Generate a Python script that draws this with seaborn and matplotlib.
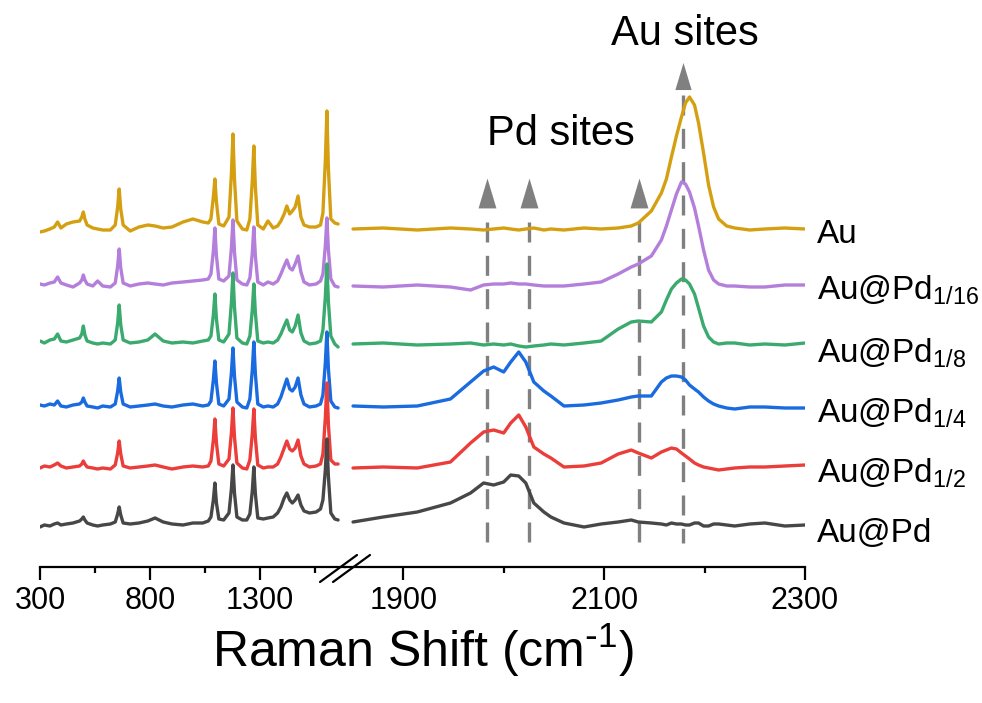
import pandas as pd
import matplotlib.pyplot as plt
import seaborn as sns
from matplotlib.lines import Line2D
from matplotlib.path import Path

# sample names / stacking
samples = ['Au', 'Au@Pd1/16', 'Au@Pd1/8', 'Au@Pd1/4', 'Au@Pd1/2', 'Au@Pd']
labels = ['Au', r'Au@Pd$_{1/16}$', r'Au@Pd$_{1/8}$', r'Au@Pd$_{1/4}$', r'Au@Pd$_{1/2}$', 'Au@Pd']
offsets = [338, 281, 223, 160, 99, 42]
label_y = [324, 267, 204, 144, 84, 25]
colors = ['#D4A012', '#B47EDB', '#3BAA6E', '#1A6AE0', '#EB3D3A', '#474747']

# low-wavenumber segment (300-1690 cm-1)
shift_low = [300, 320, 345, 365, 380, 395,
             420, 450, 480, 490, 497, 504, 514,
             540, 562, 585, 620,
             642, 653, 660, 667, 678,
             710, 750, 790, 823, 860, 900, 950, 995, 1040, 1065,
             1077, 1088, 1095, 1102, 1113,
             1135,
             1159, 1170, 1177, 1184, 1195,
             1220, 1240,
             1254, 1265, 1272, 1279, 1290,
             1315, 1336, 1360, 1380,
             1395, 1410, 1422, 1435, 1447, 1460, 1473, 1486, 1500,
             1525, 1555, 1575,
             1586, 1597, 1604, 1611, 1622,
             1640, 1655]

low_au = [-3, -2, 0, 2, 7, 1,
          5, 7, 8, 12, 17, 10, 4,
          1, 0, -1, -1,
          4, 22, 40, 20, 4,
          -2, 2, 4, 3, 1, 2, 7, 10, 7, 6,
          10, 32, 50, 27, 5,
          3,
          12, 55, 95, 50, 8,
          0, -1,
          10, 48, 83, 42, 4,
          0, 8, 1, 3,
          8, 15, 23, 15, 18, 22, 33, 12, 4,
          2, 2, 4,
          16, 68, 118, 60, 10,
          6, 5]
low_pd16 = [2, 1, 3, 4, 9, 3,
            1, -1, 3, 6, 11, 6, 2,
            0, 5, 0, -1,
            3, 20, 37, 18, 3,
            0, 2, 3, 2, 1, 3, 4, 5, 6, 7,
            12, 35, 58, 30, 7,
            5,
            10, 38, 66, 34, 6,
            2, 1,
            8, 33, 59, 30, 4,
            1, 4, 2, 5,
            12, 20, 26, 18, 16, 22, 30, 14, 4,
            1, 2, 5,
            12, 40, 68, 36, 7,
            0, -1]
low_pd8 = [3, 1, 4, 5, 10, 3,
           2, 4, 6, 10, 18, 9, 3,
           1, 0, 1, 0,
           4, 21, 39, 19, 4,
           1, 2, 4, 10, 3, 1, 2, 1, 3, 4,
           8, 29, 50, 25, 4,
           2,
           10, 41, 71, 37, 6,
           1, 0,
           8, 34, 60, 31, 3,
           1, 2, 1, 4,
           10, 18, 24, 14, 12, 18, 29, 11, 3,
           0, 1, 3,
           14, 47, 80, 42, 8,
           0, -3]
low_pd4 = [2, 1, 3, 2, 6, 1,
           0, 2, 3, 5, 9, 5, 1,
           0, -1, 1, 0,
           3, 16, 29, 15, 3,
           0, 1, 2, 3, 1, 0, 2, 3, 1, 2,
           6, 27, 46, 24, 3,
           1,
           8, 34, 59, 31, 5,
           0, -1,
           8, 37, 65, 33, 3,
           0, 1, 0, 3,
           10, 20, 28, 18, 16, 20, 29, 12, 3,
           0, 1, 3,
           12, 44, 75, 38, 6,
           0, -1]
low_pd2 = [0, 2, 1, 3, 5, 2,
           0, 1, 2, 4, 7, 4, 1,
           0, -1, 0, -1,
           3, 15, 27, 14, 2,
           0, 1, 2, 3, 1, -1, 1, 2, 1, 2,
           7, 28, 49, 25, 4,
           2,
           9, 35, 60, 31, 5,
           0, -1,
           8, 34, 59, 30, 3,
           0, 1, 1, 4,
           11, 20, 27, 19, 17, 20, 28, 12, 4,
           1, 2, 4,
           14, 50, 85, 43, 8,
           4, 4]
low_aupd = [-2, 0, -1, 1, 2, 0,
            1, 2, 4, 6, 8, 5, 2,
            0, -1, 0, 1,
            3, 11, 18, 10, 2,
            1, 2, 4, 7, 3, 1, 0, 2, 2, 4,
            8, 25, 42, 22, 6,
            5,
            12, 36, 60, 32, 8,
            5, 5,
            11, 34, 58, 31, 7,
            6, 7, 8, 12,
            18, 27, 32, 25, 22, 25, 30, 20, 14,
            12, 13, 16,
            25, 55, 86, 48, 12,
            6, 5]

# high-wavenumber segment (1850-2300 cm-1)
shift_high = [1850, 1880, 1914, 1947, 1967, 1980, 1990, 2000, 2007, 2015,
              2022, 2030, 2040, 2047, 2060, 2080, 2097, 2114, 2127, 2134,
              2147, 2157, 2162, 2167, 2172, 2177, 2181, 2185, 2190, 2194,
              2199, 2204, 2209, 2214, 2222, 2230, 2245, 2260, 2280, 2300]
high_au = [0, 1, -1, 1, 0, -1, 0, 1, 0, -1,
           0, 1, -1, 0, -1, 1, 0, 1, 3, 6,
           18, 36, 50, 72, 93, 112, 126, 132, 124, 106,
           76, 44, 22, 10, 3, 1, -1, 0, 1, 0]
high_pd16 = [0, -1, 1, -1, -4, 1, 2, 2, 3, 2,
             2, 1, 0, 0, 0, 2, 4, 12, 19, 22,
             30, 46, 60, 76, 92, 104, 102, 94, 78, 60,
             36, 16, 6, 2, 0, 0, -1, -1, 1, 1]
high_pd8 = [0, 1, -1, 0, 1, -1, 0, -1, 0, -2,
            -3, -2, -1, 0, -1, 1, 3, 15, 22, 23,
            22, 32, 44, 55, 61, 65, 64, 60, 50, 36,
            18, 7, 2, 0, 1, 1, -1, 0, -1, 1]
high_pd4 = [1, 0, 1, 8, 25, 36, 40, 35, 45, 55,
            45, 25, 16, 11, 1, 2, 4, 7, 10, 11,
            11, 25, 29, 31, 31, 30, 27, 22, 18, 15,
            10, 6, 3, 1, -1, -2, 0, 0, -1, -1]
high_pd2 = [0, 1, 0, 6, 25, 36, 38, 35, 45, 53,
            41, 21, 14, 10, 1, 2, 5, 14, 18, 15,
            10, 16, 18, 20, 19, 15, 12, 9, 5, 3,
            1, 0, -1, -2, -1, 0, 1, 1, 2, 3]
high_aupd = [3, 8, 13, 22, 32, 42, 40, 43, 50, 49,
             42, 22, 13, 8, 2, -2, 1, 3, 5, 3,
             2, 1, 0, 2, 1, 1, 0, 0, 2, 2,
             -1, -1, 1, 1, 0, -1, 1, 2, -1, 0]

# site markers
pd_sites = [1983, 2025, 2135]
au_site = 2179

low_series = [low_au, low_pd16, low_pd8, low_pd4, low_pd2, low_aupd]
high_series = [high_au, high_pd16, high_pd8, high_pd4, high_pd2, high_aupd]

rows = []
for name, off, lo, hi in zip(samples, offsets, low_series, high_series):
    for x, y in zip(shift_low, lo):
        rows.append((name, 'low', x, y + off))
    for x, y in zip(shift_high, hi):
        rows.append((name, 'high', x, y + off))
df = pd.DataFrame(rows, columns=['sample', 'segment', 'shift', 'intensity'])

sns.set_style('ticks')
plt.rcParams['font.family'] = ['Liberation Sans', 'DejaVu Sans']
plt.rcParams['mathtext.default'] = 'regular'
plt.rcParams['text.color'] = 'black'
plt.rcParams['xtick.color'] = 'black'
plt.rcParams['axes.edgecolor'] = 'black'

W, H = 982, 703
fig = plt.figure(figsize=(W / 100, H / 100), dpi=100)
bottom = (H - 567) / H
height = 567 / H
ax1 = fig.add_axes([40 / W, bottom, 305 / W, height])
ax2 = fig.add_axes([345 / W, bottom, 460 / W, height])

for ax, seg in [(ax1, 'low'), (ax2, 'high')]:
    sns.lineplot(data=df[df['segment'] == seg], x='shift', y='intensity',
                 hue='sample', hue_order=samples, palette=colors,
                 estimator=None, sort=False, legend=False, linewidth=2.4,
                 ax=ax, zorder=3)
    ax.set_ylim(0, 567)
    ax.set_yticks([])
    ax.set_xlabel('')
    ax.set_ylabel('')
    for s in ['top', 'right', 'left']:
        ax.spines[s].set_visible(False)
    ax.spines['bottom'].set_linewidth(1.6)
    ax.spines['bottom'].set_color('black')
    ax.tick_params(axis='x', which='major', direction='out', length=9,
                   width=1.6, labelsize=22, pad=5, colors='black')
    ax.tick_params(axis='x', which='minor', direction='out', length=4.5,
                   width=1.6, colors='black')
    ax.patch.set_visible(False)

ax1.set_xlim(300, 1686.4)
ax1.set_xticks([300, 800, 1300])
ax1.set_xticks([550, 1050, 1550], minor=True)
ax2.set_xlim(1842, 2300)
ax2.set_xticks([1900, 2100, 2300])
ax2.set_xticks([2000, 2200], minor=True)

# dashed guide lines and triangles
tri = Path([(0, 1), (-0.6, -1), (0.6, -1), (0, 1)],
           [Path.MOVETO, Path.LINETO, Path.LINETO, Path.CLOSEPOLY])
for x in pd_sites:
    ax2.plot([x, x], [345, 24], color='#808080', lw=2.4,
             linestyle=(0, (6, 4)), zorder=1)
    ax2.plot(x, 374, marker=tri, markersize=21.5, color='#808080',
             markeredgewidth=0, zorder=4)
ax2.plot([au_site, au_site], [472, 24], color='#808080', lw=2.4,
         linestyle=(0, (6, 4)), zorder=1)
ax2.plot(au_site, 491, marker=tri, markersize=19.5, color='#808080',
         markeredgewidth=0, zorder=4)

ax2.text(2057, 422, 'Pd sites', fontsize=30, ha='center', va='baseline')
ax2.text(2180, 522, 'Au sites', fontsize=30, ha='center', va='baseline')

for lab, y in zip(labels, label_y):
    ax2.text(2312, y, lab, fontsize=24, ha='left', va='baseline',
             clip_on=False)

# axis break marks
for x0 in [320, 333]:
    fig.add_artist(Line2D([x0 / W, (x0 + 37) / W],
                          [(H - 582) / H, (H - 555) / H],
                          color='black', lw=1.6))

fig.text(423 / W, 1 - 650 / H, r'Raman Shift (cm$^{\text{-}1}$)', fontsize=36,
         ha='center', va='center')

fig.savefig('out.png', dpi=100)
